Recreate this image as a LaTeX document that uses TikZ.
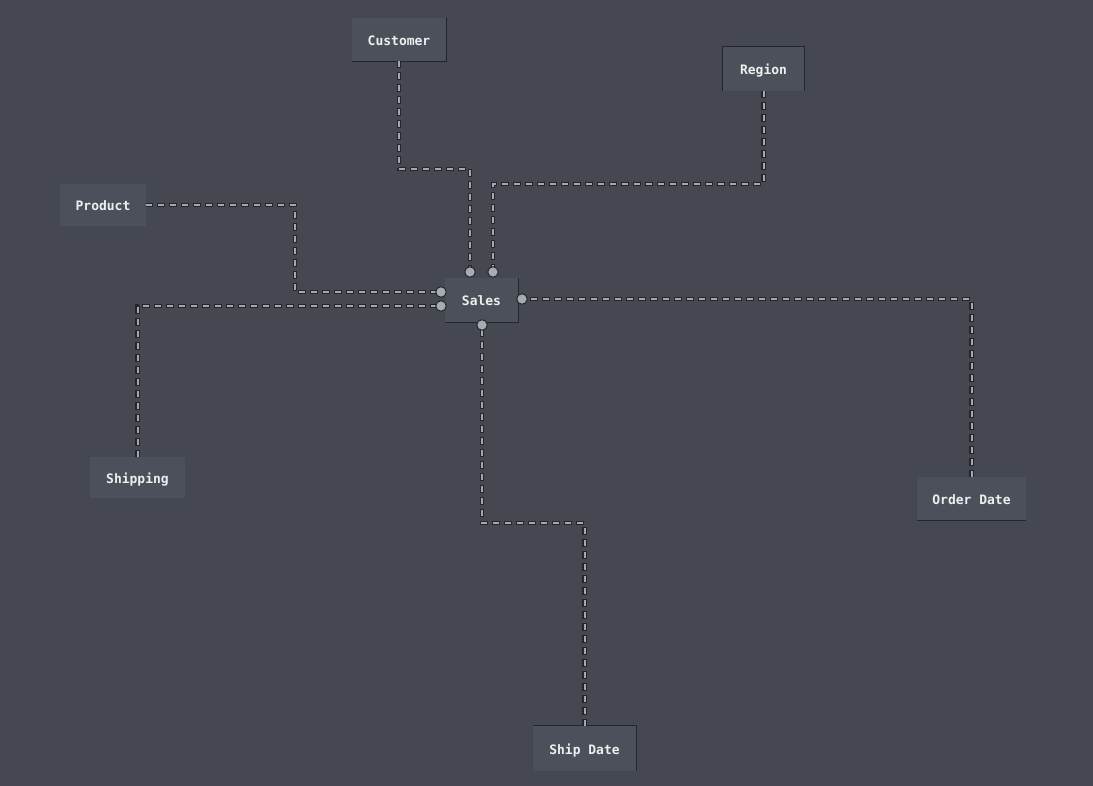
\documentclass[tikz,border=0pt]{standalone}
\usepackage{fontspec}
\setmonofont{DejaVu Sans Mono}
\begin{document}
\begin{tikzpicture}[x=1pt,y=-1pt,
  tbl/.style={fill=boxc,text=txtc,font=\ttfamily\bfseries\fontsize{13}{15}\selectfont,inner sep=0pt,anchor=center,text height=13pt,text depth=1pt},
  lnk/.style={line width=2pt,draw=linec,dash pattern=on 6pt off 6pt},
  lnkbg/.style={line width=4.4pt,draw=darkc,dash pattern=on 8pt off 4pt,dash phase=1pt},
  dot/.style={circle,fill=dotc,draw=darkc,line width=1pt,minimum size=10.5pt,inner sep=0pt},
  bord/.style={draw=darkc,line width=1.3pt}]
\definecolor{bgc}{HTML}{454851}
\definecolor{boxc}{HTML}{4C505A}
\definecolor{txtc}{HTML}{EEEEEE}
\definecolor{linec}{HTML}{A4A7AD}
\definecolor{darkc}{HTML}{23262B}
\definecolor{dotc}{HTML}{A8ABB1}
\fill[bgc] (0,0) rectangle (1093,786);
\useasboundingbox (0,0) rectangle (1093,786);
% boxes
\node[tbl,minimum width=94pt,minimum height=43pt] (cust) at (399,39.5) {Customer};
\node[tbl,minimum width=81pt,minimum height=44pt] (reg) at (763.5,69) {Region};
\node[tbl,minimum width=86pt,minimum height=42pt] (prod) at (103,205) {Product};
\node[tbl,minimum width=73pt,minimum height=44pt] (sales) at (481.5,300) {Sales};
\node[tbl,minimum width=95pt,minimum height=41pt] (ship) at (137.5,477.5) {Shipping};
\node[tbl,minimum width=103pt,minimum height=45pt] (sdate) at (584.5,748.5) {Ship Date};
\node[tbl,minimum width=109pt,minimum height=43pt] (odate) at (971.5,498.5) {Order Date};
% partial dark borders
\draw[bord] (cust.north east) -- (cust.south east) -- (cust.south west);
\draw[bord] (reg.south west) -- (reg.north west) -- (reg.north east) -- (reg.south east);
\draw[bord] (sales.north east) -- (sales.south east) -- (sales.south west);
\draw[bord] (sdate.north west) -- (sdate.north east) -- (sdate.south east);
\draw[bord] (odate.south west) -- (odate.south east);
% connector end points
\coordinate (c1) at (470,272);
\coordinate (c2) at (493,272);
\coordinate (c3) at (441,292);
\coordinate (c4) at (441,306);
\coordinate (c5) at (522,299);
\coordinate (c6) at (482,325);
% connectors
\foreach \s in {lnkbg,lnk}{
  \draw[\s] (cust.south) |- (470,169) -- (c1);
  \draw[\s] (reg.south) |- (493,184) -- (c2);
  \draw[\s] (prod.east) -| (295,292) -- (c3);
  \draw[\s] (ship.north) |- (c4);
  \draw[\s] (odate.north) |- (c5);
  \draw[\s] (sdate.north) |- (482,523) -- (c6);
}
% dots
\foreach \c in {c1,c2,c3,c4,c5,c6}{\node[dot] at (\c) {};}
\end{tikzpicture}
\end{document}
